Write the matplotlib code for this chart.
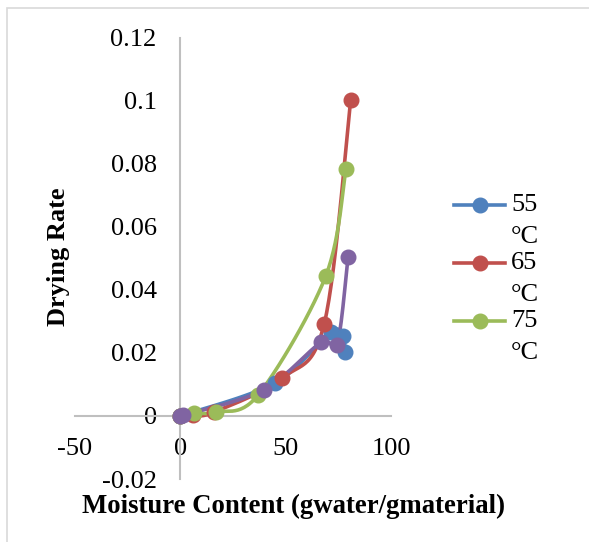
import numpy as np
import matplotlib.pyplot as plt
from matplotlib.lines import Line2D
from matplotlib.patches import Rectangle

plt.rcParams['font.family'] = ['Liberation Serif', 'DejaVu Serif']

# drying rate vs moisture content
x55 = [0, 45.0, 71.3, 77.0, 78.3]
y55 = [0, 0.0105, 0.0265, 0.0253, 0.0202]
x65 = [0, 6.0, 16.0, 48.3, 68.3, 80.9]
y65 = [0, 0.0002, 0.0012, 0.0120, 0.0292, 0.1002]
x75 = [0, 6.5, 17.0, 37.0, 69.0, 78.6]
y75 = [0, 0.0009, 0.0012, 0.0067, 0.0443, 0.0784]
x85 = [0, 1.5, 39.5, 66.8, 74.4, 79.6]
y85 = [0, 0.0002, 0.0083, 0.0233, 0.0225, 0.0503]

labels = ['55', '65', '75']
colors = ['#4F81BD', '#C0504D', '#9BBB59', '#8064A2']


def smooth(xs, ys, n=30):
    # excel style smoothed line (bezier through the points)
    p = np.column_stack([xs, ys]).astype(float)
    out = [p[0]]
    for i in range(len(p) - 1):
        p0 = p[i - 1] if i > 0 else p[i]
        p3 = p[i + 2] if i + 2 < len(p) else p[i + 1]
        c1 = p[i] + (p[i + 1] - p0) / 6
        c2 = p[i + 1] - (p3 - p[i]) / 6
        t = np.linspace(0, 1, n)[1:, None]
        seg = ((1 - t) ** 3 * p[i] + 3 * (1 - t) ** 2 * t * c1
               + 3 * (1 - t) * t ** 2 * c2 + t ** 3 * p[i + 1])
        out.extend(seg)
    out = np.array(out)
    return out[:, 0], out[:, 1]


fig = plt.figure(figsize=(5.89, 5.42), dpi=100)
ax = fig.add_axes([75 / 589, 1 - 479 / 542, 316 / 589, 441.5 / 542])

series = [(x55, y55), (x65, y65), (x75, y75), (x85, y85)]
for (xs, ys), c in zip(series, colors):
    sx, sy = smooth(xs, ys)
    ax.plot(sx, sy, color=c, lw=2.6, solid_capstyle='round', zorder=3)
    ax.plot(xs, ys, 'o', color=c, ms=10.5, zorder=4)

ax.set_xlim(-50, 100)
ax.set_ylim(-0.02, 0.12)
ax.set_xticks([-50, 0, 50, 100])
ax.set_xticklabels(['-50', '0', '50', '100'])
ax.set_yticks([-0.02, 0, 0.02, 0.04, 0.06, 0.08, 0.1, 0.12])
ax.set_yticklabels(['-0.02', '0', '0.02', '0.04', '0.06', '0.08', '0.1', '0.12'])

for s in ['top', 'right']:
    ax.spines[s].set_visible(False)
ax.spines['left'].set_position(('data', 0))
ax.spines['bottom'].set_position(('data', 0))
for s in ['left', 'bottom']:
    ax.spines[s].set_color('#BFBFBF')
    ax.spines[s].set_linewidth(1.5)
ax.tick_params(axis='both', length=0, labelsize=19)
ax.tick_params(axis='y', pad=17)
ax.tick_params(axis='x', pad=16)
ax.patch.set_visible(False)

fig.text(58 / 589, 1 - 257 / 542, 'Drying Rate', rotation=90, fontsize=19,
         fontweight='bold', ha='center', va='center')
fig.text(293 / 589, 1 - 506 / 542, 'Moisture Content (gwater/gmaterial)',
         fontsize=19.3, fontweight='bold', ha='center', va='center')

# chart border (only top and left show in the picture)
fig.patches.append(Rectangle((6.5 / 589, -0.1), 1.2, 1 - 7.5 / 542 + 0.1,
                             transform=fig.transFigure, fill=False,
                             ec='#D9D9D9', lw=1.2))

# legend, labels wrap onto two lines
for i, (lab, c) in enumerate(zip(labels, colors)):
    ytop = 1 - (205 + 58 * i) / 542
    fig.add_artist(Line2D([454 / 589, 505 / 589], [ytop, ytop], color=c, lw=2.6,
                          transform=fig.transFigure))
    fig.add_artist(Line2D([480 / 589], [ytop], marker='o', color=c, ms=10.5,
                          transform=fig.transFigure))
    fig.text(511 / 589, ytop, lab, fontsize=19, va='center', ha='left')
    fig.text(511 / 589, ytop - 32 / 542, '°C', fontsize=19, va='center', ha='left')

fig.savefig('out.png', dpi=100)
